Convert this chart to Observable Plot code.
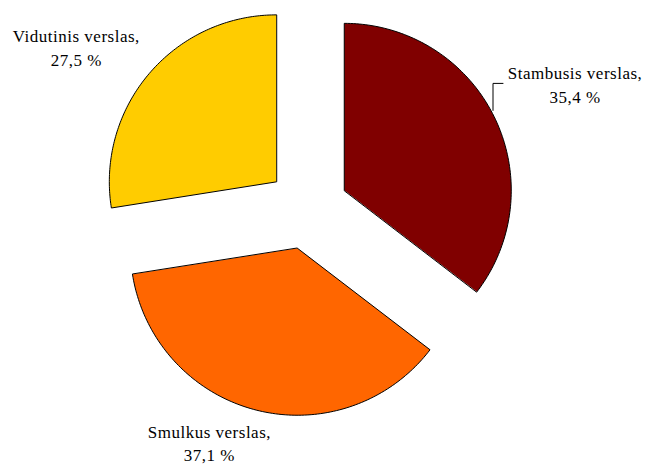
<!DOCTYPE html>
<html>
<head>
<meta charset="utf-8">
<script src="https://cdn.jsdelivr.net/npm/d3@7"></script>
<script src="https://cdn.jsdelivr.net/npm/@observablehq/plot@0.6"></script>
<style>
  html, body { margin: 0; padding: 0; background: #fff; }
  #chart { width: 648px; height: 465px; }
  #chart svg text { font-family: "Liberation Serif", "Times New Roman", serif !important; letter-spacing: 0.5px; }
</style>
</head>
<body>
<div id="chart"></div>
<script>
// ---- data ----
const categories = ["Stambusis verslas", "Smulkus verslas", "Vidutinis verslas"];
const shares = [35.4, 37.1, 27.5];
const valueLabels = ["35,4 %", "37,1 %", "27,5 %"];
const colors = ["#800000", "#FF6600", "#FFCC00"];

// ---- layout ----
const W = 648, H = 465;
const cx = 307, cy = 208, R = 167, explode = 41;
const labelOffset = [[81, -33], [-47, 32], [-73, -27]];

const rows = categories.map((name, i) => ({name, value: shares[i], label: valueLabels[i]}));
const arcs = d3.pie().sort(null).value(d => d.value).startAngle(0).endAngle(2 * Math.PI)(rows);

const polys = [];
const labels = [];
arcs.forEach((a, i) => {
  const mid = (a.startAngle + a.endAngle) / 2;
  const ax = cx + explode * Math.sin(mid), ay = cy - explode * Math.cos(mid);
  polys.push({name: a.data.name, x: ax, y: ay});
  const n = 120;
  for (let k = 0; k <= n; k++) {
    const t = a.startAngle + (a.endAngle - a.startAngle) * k / n;
    polys.push({name: a.data.name, x: ax + R * Math.sin(t), y: ay - R * Math.cos(t)});
  }
  const px = ax + R * Math.sin(mid), py = ay - R * Math.cos(mid);
  labels.push({name: a.data.name, text: a.data.name + ",\n" + a.data.label,
    x: px + labelOffset[i][0], y: py + labelOffset[i][1], px, py});
});

// leader line for first label
const L = labels[0];
const leader = [
  {x: L.px - 1, y: L.py - 6},
  {x: L.px - 1, y: L.y},
  {x: L.px + 9, y: L.y}
];

const chart = Plot.plot({
  width: W, height: H,
  margin: 0,
  x: {axis: null, domain: [0, W], range: [0, W]},
  y: {axis: null, domain: [0, H], range: [0, H]},
  color: {domain: categories, range: colors},
  style: {background: "#fff", fontFamily: "'Liberation Serif', 'Times New Roman', serif"},
  marks: [
    Plot.line(polys, {x: "x", y: "y", z: "name", fill: "name", stroke: "black", strokeWidth: 1, curve: "linear-closed"}),
    Plot.line(leader, {x: "x", y: "y", stroke: "black", strokeWidth: 1}),
    Plot.text(labels, {x: "x", y: "y", text: "text", lineHeight: 1.38, fontSize: 17,
      fontFamily: "'Liberation Serif', 'Times New Roman', serif", fill: "black", textAnchor: "middle"})
  ]
});
document.getElementById("chart").appendChild(chart);
</script>
</body>
</html>
